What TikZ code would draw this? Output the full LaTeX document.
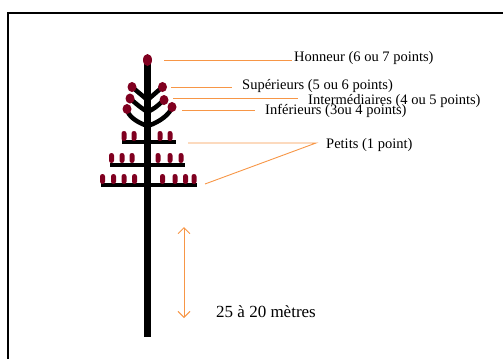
\documentclass[tikz,border=0pt]{standalone}
\usepackage{fontspec}
\setmainfont{Liberation Serif}
\usetikzlibrary{arrows.meta}
\definecolor{berry}{RGB}{128,0,32}
\definecolor{leadcol}{RGB}{247,150,70}

\begin{document}
\begin{tikzpicture}[x=1pt,y=-1pt,
    bough/.style={line width=4.5pt},
    candle/.style={fill=berry,rounded corners=2.4pt},
    bead/.style={fill=berry},
    leader/.style={draw=leadcol,line width=0.9pt,shorten >=10pt},
    lbl/.style={anchor=base west,inner sep=0pt,font=\fontsize{14.5}{17}\selectfont}]
  \useasboundingbox (0,0) rectangle (503,359);
  \draw[line width=2pt] (503,13) -- (8,13) -- (8,359);

  \draw[line width=7pt] (147.5,60) -- (147.5,337);

  \draw[bough] (147.5,100) -- (132,87);
  \draw[bough] (147.5,100) -- (162.5,87);
  \draw[bough] (147.5,112) .. controls (140,107) .. (130,98.5);
  \draw[bough] (147.5,112) .. controls (155,108) .. (164,100);
  \draw[bough] (147.5,126) .. controls (136,122) and (128,116) .. (127,109);
  \draw[bough] (147.5,126) .. controls (160,122) and (170,114) .. (172,107);

  \fill[bead] (147.5,60) ellipse [x radius=4.5, y radius=6];
  \fill[bead] (132,87) ellipse [x radius=4.5, y radius=5];
  \fill[bead] (162.5,87) ellipse [x radius=4.5, y radius=5];
  \fill[bead] (130,98.5) ellipse [x radius=4.5, y radius=5];
  \fill[bead] (164,100) ellipse [x radius=4.5, y radius=5];
  \fill[bead] (127,109) ellipse [x radius=4.5, y radius=5];
  \fill[bead] (172,107) ellipse [x radius=4.5, y radius=5];

  \fill (122,140) rectangle (176,144);
  \fill[candle] (121.5,131) rectangle (126.5,141);
  \fill[candle] (131.5,131) rectangle (136.5,141);
  \fill[candle] (157.5,131) rectangle (162.5,141);
  \fill[candle] (167.5,131) rectangle (172.5,141);

  \fill (109.5,162.5) rectangle (184.5,166.5);
  \fill[candle] (109,153) rectangle (114,163);
  \fill[candle] (119.5,153) rectangle (124.5,163);
  \fill[candle] (129.5,153) rectangle (134.5,163);
  \fill[candle] (155.5,153) rectangle (160.5,163);
  \fill[candle] (167.5,153) rectangle (172.5,163);
  \fill[candle] (178.5,153) rectangle (183.5,163);

  \fill (100.5,183) rectangle (197,187);
  \fill[candle] (100,174) rectangle (105,184);
  \fill[candle] (111,174) rectangle (116,184);
  \fill[candle] (121.5,174) rectangle (126.5,184);
  \fill[candle] (132,174) rectangle (137,184);
  \fill[candle] (160,174) rectangle (165,184);
  \fill[candle] (172.5,174) rectangle (177.5,184);
  \fill[candle] (183,174) rectangle (188,184);
  \fill[candle] (191.5,174) rectangle (196.5,184);

  \node[lbl] (honneur) at (294,61) {Honneur (6 ou 7 points)};
  \node[lbl] (sup) at (242,89) {Supérieurs (5 ou 6 points)};
  \node[lbl] (inter) at (308,104) {Intermédiaires (4 ou 5 points)};
  \node[lbl] (inf) at (265,114) {Inférieurs (3ou 4 points)};
  \node[lbl] (petits) at (326,148) {Petits (1 point)};
  \node[lbl,font=\fontsize{17}{20}\selectfont] (haut) at (216,317) {25 à 20 mètres};

  \coordinate (honpt) at (164,60);
  \coordinate (suppt) at (171,87);
  \coordinate (interpt) at (173,98);
  \coordinate (infpt) at (182,110);
  \coordinate (petpt) at (188,143);
  \coordinate (petlow) at (205,184);
  \coordinate (petjoin) at ([xshift=-10pt]petpt -| petits.west);
  \coordinate (htop) at (184,227);
  \coordinate (hbot) at (184,318);

  \draw[leader,shorten >=2pt] (honpt) -- (honpt -| honneur.west);
  \draw[leader] (suppt) -- (suppt -| sup.west);
  \draw[leader] (interpt) -- (interpt -| inter.west);
  \draw[leader] (infpt) -- (infpt -| inf.west);
  \draw[leader,shorten >=0pt] (petpt) -- (petjoin) -- (petlow);
  \draw[leadcol,line width=0.9pt,{Straight Barb[length=6pt,width=12pt]}-{Straight Barb[length=6pt,width=12pt]}] (htop) -- (hbot);
\end{tikzpicture}
\end{document}
